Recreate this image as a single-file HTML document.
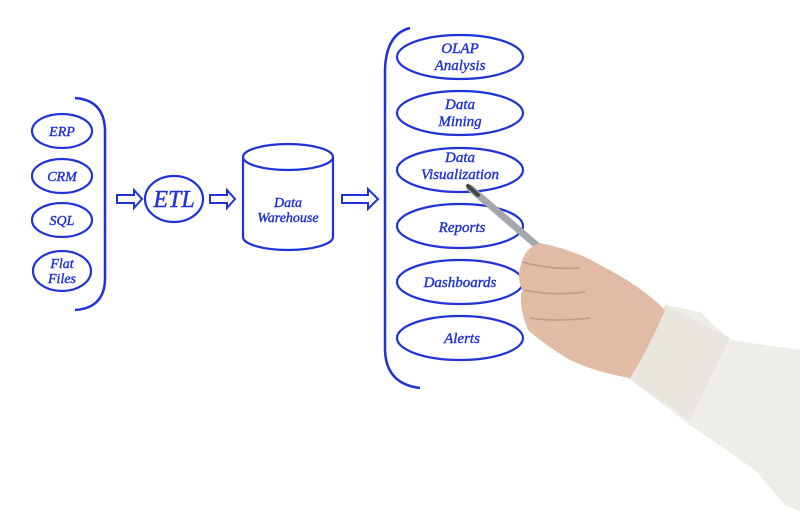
<!DOCTYPE html>
<html><head><style>html,body{margin:0;padding:0;background:#fff;}svg{display:block}</style></head>
<body>
<svg width="800" height="511" viewBox="0 0 800 511" xmlns="http://www.w3.org/2000/svg">
<rect width="800" height="511" fill="#fff"/>
<g fill="none" stroke="#1f33d8" stroke-width="2.2">
  <ellipse cx="62" cy="131" rx="30" ry="17"/>
  <ellipse cx="62" cy="176" rx="30" ry="17"/>
  <ellipse cx="62" cy="220" rx="30" ry="17"/>
  <ellipse cx="62" cy="271" rx="29" ry="20"/>
  <path d="M75 98 Q104 100 105 130 L105 280 Q104 308 75 310" stroke-width="2.5"/>
  <path d="M117 195 L134 195 L134 190 L142 199 L134 208 L134 203 L117 203 Z" stroke-width="2"/>
  <path d="M210 195 L227 195 L227 190 L235 199 L227 208 L227 203 L210 203 Z" stroke-width="2"/>
  <path d="M342 195 L368 195 L368 189 L378 199 L368 209 L368 203 L342 203 Z" stroke-width="2"/>
  <ellipse cx="174" cy="199" rx="29" ry="23"/>
  <ellipse cx="288" cy="157" rx="45" ry="13"/>
  <path d="M243 157 L243 237 A45 13 0 0 0 333 237 L333 157"/>
  <path d="M410 28 Q386 34 385 70 L385 350 Q386 384 420 388" stroke-width="2.5"/>
  <ellipse cx="460" cy="57" rx="63" ry="22"/>
  <ellipse cx="460" cy="113" rx="63" ry="22"/>
  <ellipse cx="460" cy="170" rx="63" ry="22"/>
  <ellipse cx="460" cy="226" rx="63" ry="22"/>
  <ellipse cx="460" cy="282" rx="63" ry="22"/>
  <ellipse cx="460" cy="338" rx="63" ry="22"/>
</g>
<g fill="#1f33d8" stroke="#1f33d8" stroke-width="0.4" font-family="'Liberation Serif', serif" font-style="italic" text-anchor="middle">
  <text x="62" y="136" font-size="14">ERP</text>
  <text x="62" y="181" font-size="14">CRM</text>
  <text x="62" y="225" font-size="14">SQL</text>
  <text x="62" y="268" font-size="14">Flat</text>
  <text x="62" y="283" font-size="14">Files</text>
  <text x="174" y="207" font-size="24">ETL</text>
  <text x="288" y="207" font-size="14">Data</text>
  <text x="288" y="222" font-size="14">Warehouse</text>
  <text x="460" y="53" font-size="15">OLAP</text>
  <text x="460" y="70" font-size="15">Analysis</text>
  <text x="460" y="109" font-size="15">Data</text>
  <text x="460" y="126" font-size="15">Mining</text>
  <text x="460" y="162" font-size="15">Data</text>
  <text x="460" y="179" font-size="15">Visualization</text>
  <text x="462" y="232" font-size="15">Reports</text>
  <text x="460" y="287" font-size="15">Dashboards</text>
  <text x="462" y="343" font-size="15">Alerts</text>
</g>
<line x1="470" y1="188" x2="548" y2="255" stroke="#a4a8ad" stroke-width="7" stroke-linecap="round"/>
<line x1="468" y1="186" x2="478" y2="195" stroke="#444" stroke-width="4" stroke-linecap="round"/>
<path d="M665 305 L700 312 L730 340 L800 350 L800 511 L785 505 L755 470 L690 425 L628 378 Z" fill="#efede7"/>
<path d="M665 305 L730 338 L690 420 L628 378 Z" fill="#e8e6df"/>
<path d="M540 243 Q575 250 600 265 Q640 285 665 310 Q648 350 630 378 Q595 372 570 360 Q545 345 528 330 Q518 305 522 290 Q516 275 522 262 Q525 248 540 243 Z" fill="#e0bca4"/>
<path d="M522 262 Q550 270 580 268 M524 290 Q550 296 585 292 M530 318 Q555 322 590 318" stroke="#c09a82" stroke-width="1.5" fill="none"/>
</svg>
</body></html>
